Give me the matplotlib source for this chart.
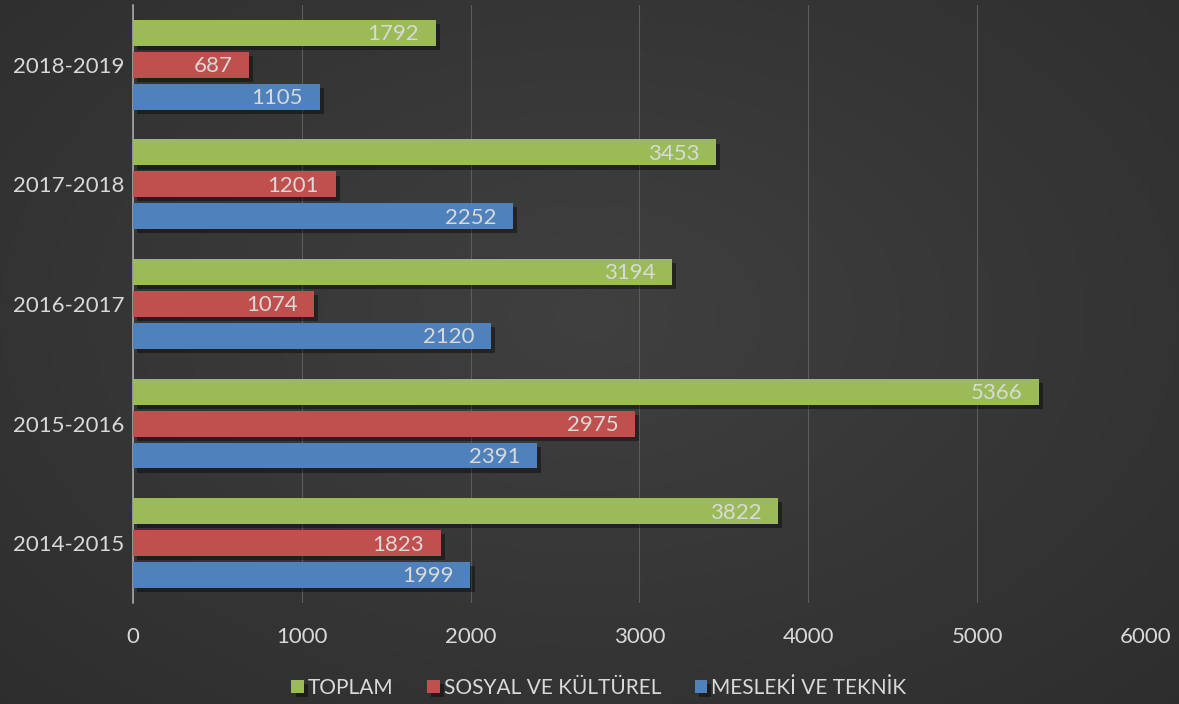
import numpy as np
import matplotlib
matplotlib.use("Agg")
import matplotlib.pyplot as plt
import matplotlib.patheffects as pe

# data
years = ["2014-2015", "2015-2016", "2016-2017", "2017-2018", "2018-2019"]
toplam = [3822, 5366, 3194, 3453, 1792]
sosyal = [1823, 2975, 1074, 1201, 687]
mesleki = [1999, 2391, 2120, 2252, 1105]
series_names = ["TOPLAM", "SOSYAL VE KÜLTÜREL", "MESLEKİ VE TEKNİK"]
colors = ["#9bbb59", "#c0504d", "#4f81bd"]

plt.rcParams['font.family'] = ['Lato', 'DejaVu Sans']
txt = "#d9d9d9"

fig = plt.figure(figsize=(11.79, 7.04), dpi=100)

# dark background, a bit lighter in the middle
bg = fig.add_axes([0, 0, 1, 1])
yy, xx = np.mgrid[0:1:200j, 0:1:300j]
r = np.sqrt(((xx - 0.5) / 0.9) ** 2 + ((yy - 0.45) / 1.0) ** 2)
shade = np.stack([0.25 - 0.09 * np.clip(r, 0, 1)] * 3, axis=-1)
bg.imshow(shade, aspect="auto", extent=[0, 1, 0, 1], interpolation="bicubic")
bg.axis("off")

ax = fig.add_axes([0.1128, 0.1435, 0.972 - 0.1128, 0.993 - 0.1435])
ax.patch.set_alpha(0)

y = np.arange(len(years))
h = 0.217
off = 0.267
shadow = [pe.SimplePatchShadow(offset=(3, -3), shadow_rgbFace="black", alpha=0.4), pe.Normal()]
for vals, name, c, d in zip([toplam, sosyal, mesleki], series_names, colors, [off, 0, -off]):
    bars = ax.barh(y + d, vals, height=h, color=c, label=name, zorder=3)
    for b in bars:
        b.set_path_effects(shadow)
    for v, yp in zip(vals, y + d):
        ax.annotate(str(v), (v, yp), xytext=(-12, -1), textcoords="offset points",
                    ha="right", va="center", color=txt, fontsize=16, zorder=4)

ax.set_xlim(0, 6000)
ax.set_ylim(-0.5, len(years) - 0.5)
ax.set_xticks(range(0, 7000, 1000))
ax.set_yticks(y)
ax.set_yticklabels(years)
ax.tick_params(colors=txt, labelsize=16, length=0)
ax.tick_params(axis="x", pad=17)
ax.tick_params(axis="y", pad=6)
ax.grid(axis="x", color="#5c5c5c", linewidth=0.8, zorder=0)
for s in ["top", "right", "bottom"]:
    ax.spines[s].set_visible(False)
ax.spines["left"].set_color("#a6a6a6")
ax.spines["left"].set_linewidth(1.2)

leg = fig.legend(loc="lower center", bbox_to_anchor=(0.508, -0.018), ncol=3, frameon=False,
                 fontsize=15, handlelength=0.6, handleheight=0.6, handletextpad=0.2,
                 columnspacing=1.6)
for t in leg.get_texts():
    t.set_color(txt)

fig.savefig("out.png", dpi=100)
